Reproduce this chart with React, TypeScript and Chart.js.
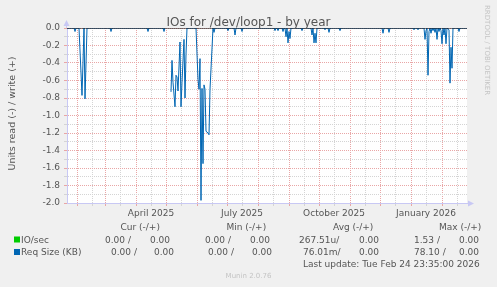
import React, { useEffect, useRef } from 'react';
import { Chart, registerables } from 'chart.js';

Chart.register(...registerables);

const TITLE = 'IOs for /dev/loop1 - by year';
const Y_LABEL = 'Units read (-) / write (+)';
const SIDE_TEXT = 'RRDTOOL / TOBI OETIKER';
const FOOTER = 'Munin 2.0.76';
const LAST_UPDATE = 'Last update: Tue Feb 24 23:35:00 2026';

// x = days since 2025-01-22 (left edge of the graph), y = value (read, negative)
const readDays = [
  0, 7, 8, 9, 12, 15, 17, 18, 20, 43, 44, 45, 80, 81, 82, 96, 97, 98,
  103, 104, 105, 106, 108, 109, 110, 111, 113, 114, 115, 117, 118, 119, 120,
  128, 129, 131, 132, 133, 134, 135, 136, 137, 138, 139, 141, 142, 143, 146, 147, 148,
  160, 161, 162, 167, 168, 169, 174, 175, 176,
  207, 208, 209, 210, 211, 212, 215, 216, 217, 218, 219, 220, 221, 222, 223, 224,
  234, 235, 236, 244, 245, 246, 247, 248, 249, 250, 257, 258, 259, 261, 262, 263,
  272, 273, 274, 315, 316, 317, 321, 322, 323, 346, 347, 348, 350, 351, 352,
  357, 358, 359, 360, 361, 362, 363, 364, 365, 366, 367, 368, 369, 370, 371, 372, 373,
  374, 375, 376, 377, 378, 379, 380, 382, 383, 384, 385, 386, 391, 392, 393, 400,
];
const readValues: (number | null)[] = [
  0, 0, -0.04, 0, 0, -0.77, 0, -0.81, 0, 0, -0.04, 0, 0, -0.04, 0, 0, -0.04, 0,
  null, -0.73, -0.37, -0.62, -0.9, -0.54, -0.56, -0.72, -0.16, -0.9, -0.62, -0.13, -0.8, -0.3, 0,
  0, 0, -0.59, -0.7, -0.35, -1.97, -0.69, -1.55, -0.65, -0.7, -1.18, -1.2, -1.22, -0.7, 0, -0.05, 0,
  0, -0.03, 0, 0, -0.08, 0, 0, -0.04, 0,
  0, -0.03, 0, 0, -0.03, 0, 0, -0.04, 0, 0, -0.1, 0, -0.17, -0.04, -0.12, 0,
  0, -0.03, 0, 0, -0.08, 0, -0.17, -0.06, -0.17, 0, 0, -0.02, 0, 0, -0.05, 0,
  0, -0.03, 0, 0, -0.06, 0, 0, -0.05, 0, 0, -0.02, 0, 0, -0.02, 0,
  0, -0.13, -0.03, 0, -0.54, -0.04, 0, -0.06, 0, -0.03, 0, -0.05, 0, -0.13, 0, -0.04, 0,
  -0.03, -0.18, 0, -0.08, 0, -0.18, 0, -0.02, -0.63, -0.22, -0.46, 0, 0, -0.04, 0, 0,
];
const zeroDays = [0, 400];
const zeroValues = [0, 0];

// x axis: month starts (major, red) and mid-month (minor, grey), days since 2025-01-22
const monthStartDays = [10, 38, 69, 99, 130, 160, 191, 222, 252, 283, 313, 344, 375];
const midMonthDays = [25, 53, 84, 114, 145, 175, 206, 237, 267, 298, 328, 359, 390];
const xLabelDays = [84, 175, 267, 359];
const xLabels = ['April 2025', 'July 2025', 'October 2025', 'January 2026'];

const legendNames = ['IO/sec', 'Req Size (KB)'];
const legendColors = ['#00cc00', '#0066b3'];
const curRead = ['0.00 /', '0.00 /'];
const curWrite = ['0.00', '0.00'];
const minRead = ['0.00 /', '0.00 /'];
const minWrite = ['0.00', '0.00'];
const avgRead = ['267.51u/', '76.01m/'];
const avgWrite = ['0.00', '0.00'];
const maxRead = ['1.53 /', '78.10 /'];
const maxWrite = ['0.00', '0.00'];
const headers = ['Cur (-/+)', 'Min (-/+)', 'Avg (-/+)', 'Max (-/+)'];

const FONT = '"DejaVu Sans", sans-serif';
const TEXT = '#555555';
const AXIS = '#c8c8f4';
const MAJOR = '#e9a6a6';
const MINOR = '#d4d4d4';

const decorPlugin = {
  id: 'decor',
  beforeDraw(chart: any) {
    const { ctx, chartArea } = chart;
    ctx.save();
    ctx.fillStyle = '#f0f0f0';
    ctx.fillRect(0, 0, chart.width, chart.height);
    ctx.fillStyle = '#ffffff';
    ctx.fillRect(chartArea.left, chartArea.top, chartArea.right - chartArea.left, chartArea.bottom - chartArea.top);
    ctx.restore();
  },
  afterDraw(chart: any) {
    const { ctx, chartArea } = chart;
    ctx.save();
    // title
    ctx.fillStyle = TEXT;
    ctx.font = `12px ${FONT}`;
    ctx.textAlign = 'center';
    ctx.textBaseline = 'alphabetic';
    ctx.fillText(TITLE, 248.5, 25.5);
    // y label
    ctx.save();
    ctx.translate(15, 113.5);
    ctx.rotate(-Math.PI / 2);
    ctx.font = `9.5px ${FONT}`;
    ctx.textAlign = 'center';
    ctx.textBaseline = 'alphabetic';
    ctx.fillText(Y_LABEL, 0, 0);
    ctx.restore();
    // side text
    ctx.save();
    ctx.translate(485, 5);
    ctx.rotate(Math.PI / 2);
    ctx.font = `7px ${FONT}`;
    ctx.fillStyle = '#c4c4c4';
    ctx.textAlign = 'left';
    ctx.textBaseline = 'alphabetic';
    ctx.fillText(SIDE_TEXT, 0, 0);
    ctx.restore();
    // arrows
    ctx.fillStyle = AXIS;
    ctx.strokeStyle = AXIS;
    ctx.lineWidth = 1;
    const ax = chartArea.left - 0.5;
    ctx.beginPath();
    ctx.moveTo(ax, chartArea.top);
    ctx.lineTo(ax, chartArea.top - 3);
    ctx.stroke();
    ctx.beginPath();
    ctx.moveTo(ax, chartArea.top - 8);
    ctx.lineTo(ax - 3, chartArea.top - 2);
    ctx.lineTo(ax + 3, chartArea.top - 2);
    ctx.closePath();
    ctx.fill();
    const ay = chartArea.bottom + 0.5;
    ctx.beginPath();
    ctx.moveTo(chartArea.right, ay);
    ctx.lineTo(chartArea.right + 3, ay);
    ctx.stroke();
    ctx.beginPath();
    ctx.moveTo(chartArea.right + 7, ay);
    ctx.lineTo(chartArea.right + 1, ay - 3);
    ctx.lineTo(chartArea.right + 1, ay + 3);
    ctx.closePath();
    ctx.fill();
    // legend
    ctx.font = `9px ${FONT}`;
    ctx.textAlign = 'left';
    ctx.textBaseline = 'alphabetic';
    ctx.fillStyle = TEXT;
    const headerX = [120.5, 226.5, 333, 439];
    headers.forEach((h, i) => ctx.fillText(h, headerX[i], 230));
    const rowY = [242.5, 255];
    const colX = [
      [105, 150, 205, 250, 299, 359, 414, 459],
      [111, 154, 208, 252, 303, 359, 414, 459],
    ];
    legendNames.forEach((name, i) => {
      const y = rowY[i];
      ctx.fillStyle = legendColors[i];
      ctx.fillRect(14, y - 6, 6, 6);
      ctx.fillStyle = TEXT;
      ctx.fillText(name, 21, y);
      const vals = [curRead[i], curWrite[i], minRead[i], minWrite[i], avgRead[i], avgWrite[i], maxRead[i], maxWrite[i]];
      vals.forEach((v, j) => ctx.fillText(v, colX[i][j], y));
    });
    ctx.fillText(LAST_UPDATE, 303, 267);
    ctx.font = `7px ${FONT}`;
    ctx.fillStyle = '#c4c4c4';
    ctx.textAlign = 'center';
    ctx.fillText(FOOTER, 248.5, 277.5);
    ctx.restore();
  },
};

export default function App() {
  const ref = useRef<HTMLCanvasElement | null>(null);
  useEffect(() => {
    const canvas = ref.current;
    if (!canvas) return;
    const majorX = new Set(monthStartDays);
    const chart = new Chart(canvas, {
      type: 'line',
      data: {
        datasets: [
          {
            label: 'zero',
            data: zeroDays.map((x, i) => ({ x, y: zeroValues[i] })),
            borderColor: '#000000',
            borderWidth: 1,
            pointRadius: 0,
            order: 0,
          },
          {
            label: 'Req Size (KB)',
            data: readDays.map((x, i) => ({ x, y: readValues[i] })) as any,
            borderColor: '#0066b3',
            borderWidth: 1,
            pointRadius: 0,
            tension: 0,
            spanGaps: false,
            order: 1,
          },
        ],
      },
      options: {
        responsive: false,
        animation: false,
        devicePixelRatio: 1,
        events: [],
        layout: { padding: { left: 0, right: 30, top: 28, bottom: 0 } },
        plugins: { legend: { display: false }, tooltip: { enabled: false }, title: { display: false } },
        scales: {
          x: {
            type: 'linear',
            min: 0,
            max: 400,
            afterBuildTicks: (s: any) => {
              const all = [...monthStartDays, ...midMonthDays].sort((a, b) => a - b);
              s.ticks = all.map((v) => ({ value: v }));
            },
            afterFit: (s: any) => {
              s.height = 84;
            },
            ticks: {
              autoSkip: false,
              maxRotation: 0,
              minRotation: 0,
              padding: 2,
              color: TEXT,
              font: { family: FONT, size: 9 },
              callback: (v: any) => {
                const idx = xLabelDays.indexOf(Number(v));
                return idx >= 0 ? xLabels[idx] : '';
              },
            },
            grid: {
              color: (c: any) => (majorX.has(c.tick?.value) ? MAJOR : MINOR),
              tickColor: (c: any) => (majorX.has(c.tick?.value) ? MAJOR : MINOR),
              tickLength: 3,
              lineWidth: 1,
            },
            border: { color: AXIS, width: 1, dash: [1, 1] },
          },
          y: {
            type: 'linear',
            min: -2,
            max: 0,
            afterBuildTicks: (s: any) => {
              const t = [];
              for (let i = -20; i <= 0; i++) t.push({ value: i / 10 });
              s.ticks = t;
            },
            afterFit: (s: any) => {
              s.width = 67;
            },
            ticks: {
              autoSkip: false,
              padding: 4,
              color: TEXT,
              font: { family: FONT, size: 9 },
              callback: (v: any) => {
                const n = Math.round(Number(v) * 10);
                return n % 2 === 0 ? (n / 10).toFixed(1) : '';
              },
            },
            grid: {
              color: (c: any) => (Math.round((c.tick?.value ?? 0) * 10) % 2 === 0 ? MAJOR : MINOR),
              tickColor: (c: any) => (Math.round((c.tick?.value ?? 0) * 10) % 2 === 0 ? MAJOR : MINOR),
              tickLength: 3,
              lineWidth: 1,
            },
            border: { color: AXIS, width: 1, dash: [1, 1] },
          },
        },
      },
      plugins: [decorPlugin],
    });
    return () => chart.destroy();
  }, []);
  return (
    <div style={{ position: 'absolute', left: 0, top: 0, width: 497, height: 287 }}>
      <canvas ref={ref} width={497} height={287} style={{ display: 'block', width: 497, height: 287 }} />
    </div>
  );
}
